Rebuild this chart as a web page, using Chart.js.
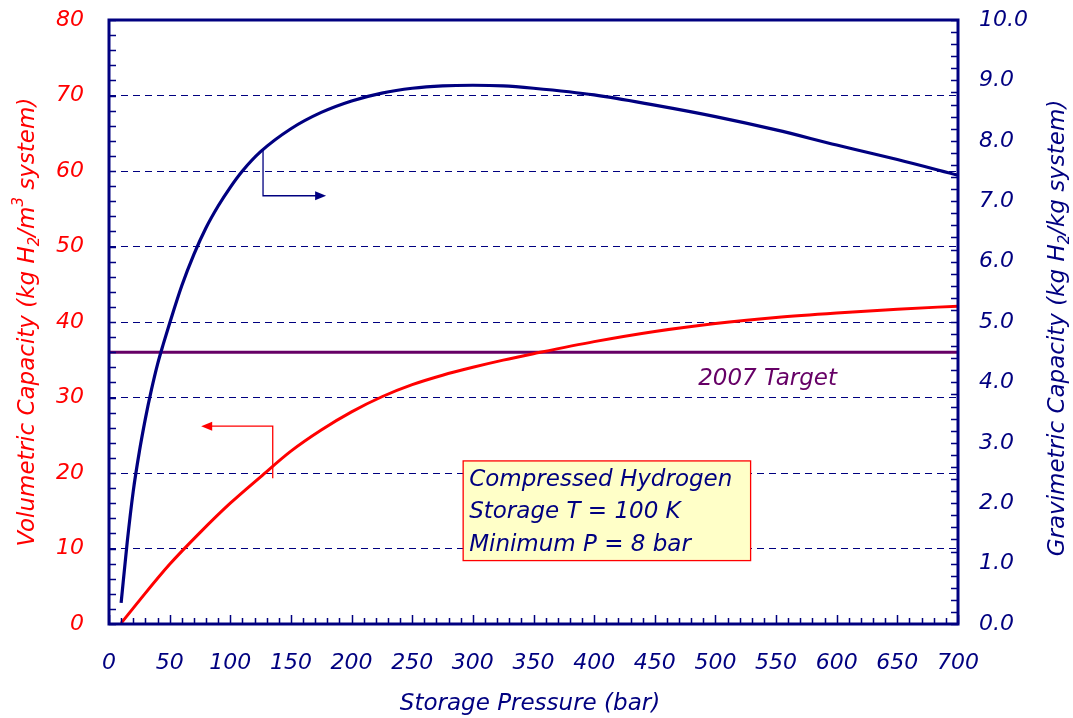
<!DOCTYPE html>
<html>
<head>
<meta charset="utf-8">
<script src="https://cdn.jsdelivr.net/npm/chart.js@4/dist/chart.umd.min.js"></script>
<style>
  html, body { margin: 0; padding: 0; background: #fff; }
  #wrap { width: 1073px; height: 718px; }
</style>
</head>
<body>
<div id="wrap"><canvas id="h2Chart" width="1073" height="718"></canvas></div>
<script>
// storage pressure (bar) vs gravimetric capacity (kg H2/kg system), right axis
const gravPressure = [10, 15, 20, 25, 30, 35, 40, 45, 50, 60, 70, 80, 90, 100, 110, 125, 150, 175, 200, 225, 250, 275, 300, 325, 350, 400, 450, 500, 550, 600, 650, 700];
const gravCapacity = [0.35, 1.35, 2.2, 2.85, 3.4, 3.88, 4.3, 4.65, 4.98, 5.6, 6.12, 6.56, 6.92, 7.23, 7.5, 7.82, 8.2, 8.47, 8.66, 8.79, 8.87, 8.91, 8.92, 8.91, 8.87, 8.76, 8.59, 8.4, 8.18, 7.93, 7.69, 7.43];

// storage pressure (bar) vs volumetric capacity (kg H2/m3 system), left axis
const volPressure = [10, 25, 50, 75, 100, 125, 150, 175, 200, 225, 250, 275, 300, 325, 350, 400, 450, 500, 550, 600, 650, 700];
const volCapacity = [0.1, 3.1, 7.9, 12.1, 16.0, 19.5, 22.9, 25.7, 28.1, 30.1, 31.7, 32.95, 34.0, 34.95, 35.8, 37.4, 38.75, 39.8, 40.6, 41.2, 41.7, 42.1];

// 2007 target (left axis)
const targetPressure = [0, 700];
const targetValue = [36, 36];

const navy = '#000080';
const red = '#FF0000';
const purple = '#660066';
const FONT = '"DejaVu Sans", sans-serif';

function toPoints(xs, ys) {
    return xs.map((x, i) => ({ x: x, y: ys[i] }));
}

// draw text with subscript / superscript parts, centred at 0,0 of current transform
function drawRich(ctx, parts, size, color) {
    const fonts = parts.map(p => 'italic ' + (p[1] === 'n' ? size : Math.round(size * 0.65)) + 'px ' + FONT);
    let total = 0;
    const widths = parts.map((p, i) => { ctx.font = fonts[i]; const w = ctx.measureText(p[0]).width; total += w; return w; });
    let x = -total / 2;
    ctx.fillStyle = color;
    ctx.textBaseline = 'middle';
    ctx.textAlign = 'left';
    parts.forEach((p, i) => {
        ctx.font = fonts[i];
        let dy = 0;
        if (p[1] === 'sub') dy = size * 0.3;
        if (p[1] === 'sup') dy = -size * 0.38;
        ctx.fillText(p[0], x, dy);
        x += widths[i];
    });
}

function arrowHead(ctx, x, y, dir, color) {
    ctx.fillStyle = color;
    ctx.beginPath();
    ctx.moveTo(x, y);
    ctx.lineTo(x - dir * 11, y - 4.5);
    ctx.lineTo(x - dir * 11, y + 4.5);
    ctx.closePath();
    ctx.fill();
}

// keep the plot box fixed: no extra room for half-height tick labels
function noPad(s) {
    s.paddingTop = 0; s.paddingBottom = 0; s.paddingLeft = 0; s.paddingRight = 0;
}

const decorations = {
    id: 'decorations',
    afterDatasetsDraw(chart) {
        const ctx = chart.ctx;
        const xs = chart.scales.x, yl = chart.scales.yL, yr = chart.scales.yR;
        const a = chart.chartArea;
        ctx.save();

        // minor tick marks
        ctx.strokeStyle = navy;
        ctx.lineWidth = 1.5;
        ctx.beginPath();
        for (let v = 0; v <= 80; v += 2) {
            const y = Math.round(yl.getPixelForValue(v)) + 0.5;
            ctx.moveTo(a.left, y); ctx.lineTo(a.left + 7, y);
        }
        for (let v = 0; v <= 10.001; v += 0.2) {
            const y = Math.round(yr.getPixelForValue(v)) + 0.5;
            ctx.moveTo(a.right, y); ctx.lineTo(a.right - 7, y);
        }
        for (let v = 0; v <= 700; v += 10) {
            const x = Math.round(xs.getPixelForValue(v)) + 0.5;
            const len = v % 50 === 0 ? 9 : 6;
            ctx.moveTo(x, a.bottom); ctx.lineTo(x, a.bottom - len);
        }
        ctx.stroke();

        // frame
        ctx.lineWidth = 3;
        ctx.strokeRect(a.left, a.top, a.right - a.left, a.bottom - a.top);

        // gravimetric callout (points right)
        ctx.lineWidth = 1.3;
        ctx.strokeStyle = navy;
        let x0 = xs.getPixelForValue(127), y0 = yr.getPixelForValue(7.84), y1 = yr.getPixelForValue(7.09), x1 = xs.getPixelForValue(179);
        ctx.beginPath();
        ctx.moveTo(x0, y0); ctx.lineTo(x0, y1); ctx.lineTo(x1 - 8, y1);
        ctx.stroke();
        arrowHead(ctx, x1, y1, 1, navy);

        // volumetric callout (points left)
        ctx.strokeStyle = red;
        x0 = xs.getPixelForValue(135); y0 = yl.getPixelForValue(19.3); y1 = yl.getPixelForValue(26.2); x1 = xs.getPixelForValue(76);
        ctx.beginPath();
        ctx.moveTo(x0, y0); ctx.lineTo(x0, y1); ctx.lineTo(x1 + 8, y1);
        ctx.stroke();
        arrowHead(ctx, x1, y1, -1, red);

        // note box
        const bx0 = xs.getPixelForValue(292), bx1 = xs.getPixelForValue(529);
        const by0 = yl.getPixelForValue(21.6), by1 = yl.getPixelForValue(8.4);
        ctx.fillStyle = '#FFFFC8';
        ctx.fillRect(bx0, by0, bx1 - bx0, by1 - by0);
        ctx.strokeStyle = red;
        ctx.lineWidth = 1.3;
        ctx.strokeRect(bx0, by0, bx1 - bx0, by1 - by0);
        ctx.fillStyle = navy;
        ctx.font = 'italic 23px ' + FONT;
        ctx.textAlign = 'left';
        ctx.textBaseline = 'middle';
        ['Compressed Hydrogen', 'Storage T = 100 K', 'Minimum P = 8 bar'].forEach((t, i) => {
            ctx.fillText(t, bx0 + 6, by0 + 19 + i * 32.5);
        });

        // target label
        ctx.fillStyle = purple;
        ctx.textAlign = 'center';
        ctx.fillText('2007 Target', xs.getPixelForValue(543), yl.getPixelForValue(32.4));

        // axis titles
        ctx.save();
        ctx.translate(28, 322);
        ctx.rotate(-Math.PI / 2);
        drawRich(ctx, [['Volumetric Capacity (kg H', 'n'], ['2', 'sub'], ['/m', 'n'], ['3', 'sup'], [' system)', 'n']], 23, red);
        ctx.restore();

        ctx.save();
        ctx.translate(1058, 328);
        ctx.rotate(-Math.PI / 2);
        drawRich(ctx, [['Gravimetric Capacity (kg H', 'n'], ['2', 'sub'], ['/kg system)', 'n']], 23, navy);
        ctx.restore();

        ctx.save();
        ctx.translate(530, 704);
        drawRich(ctx, [['Storage Pressure (bar)', 'n']], 23, navy);
        ctx.restore();

        ctx.restore();
    }
};

const ctx = document.getElementById('h2Chart').getContext('2d');
new Chart(ctx, {
    type: 'line',
    data: {
        datasets: [{
            label: 'Volumetric Capacity',
            data: toPoints(volPressure, volCapacity),
            yAxisID: 'yL',
            borderColor: red,
            borderWidth: 3,
            pointRadius: 0,
            cubicInterpolationMode: 'monotone'
        }, {
            label: 'Gravimetric Capacity',
            data: toPoints(gravPressure, gravCapacity),
            yAxisID: 'yR',
            borderColor: navy,
            borderWidth: 3.2,
            pointRadius: 0,
            cubicInterpolationMode: 'monotone'
        }, {
            label: '2007 Target',
            data: toPoints(targetPressure, targetValue),
            yAxisID: 'yL',
            borderColor: purple,
            borderWidth: 3,
            pointRadius: 0
        }]
    },
    options: {
        responsive: false,
        animation: false,
        layout: { padding: { top: 20, left: 0, right: 0, bottom: 0 } },
        plugins: { legend: { display: false }, tooltip: { enabled: false } },
        scales: {
            x: {
                type: 'linear',
                min: 0,
                max: 700,
                ticks: { stepSize: 50, color: navy, padding: 26, maxRotation: 0, font: { family: FONT, size: 22, style: 'italic' } },
                grid: { display: false, drawTicks: false },
                border: { display: false },
                afterFit: s => { s.height = 94; noPad(s); }
            },
            yL: {
                position: 'left',
                min: 0,
                max: 80,
                ticks: { stepSize: 10, color: red, padding: 25, font: { family: FONT, size: 22, style: 'italic' } },
                grid: {
                    drawTicks: false,
                    lineWidth: 1,
                    color: c => (c.tick.value === 0 || c.tick.value === 80) ? 'rgba(0,0,0,0)' : navy
                },
                border: { display: false, dash: [7, 5] },
                afterFit: s => { s.width = 109; noPad(s); }
            },
            yR: {
                position: 'right',
                min: 0,
                max: 10,
                ticks: { stepSize: 1, color: navy, padding: 21, font: { family: FONT, size: 22, style: 'italic' }, callback: v => v.toFixed(1) },
                grid: { display: false, drawTicks: false },
                border: { display: false },
                afterFit: s => { s.width = 115; noPad(s); }
            }
        }
    },
    plugins: [decorations]
});
</script>
</body>
</html>
